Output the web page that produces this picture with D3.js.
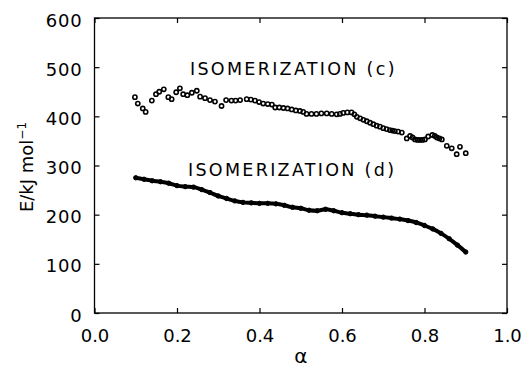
<!DOCTYPE html>
<html>
<head>
<meta charset="utf-8">
<script src="https://cdn.jsdelivr.net/npm/d3@7"></script>
<style>
  body { margin: 0; background: #fff; }
  text { font-family: "DejaVu Sans", sans-serif; fill: #000; }
</style>
</head>
<body>
<div id="chart"></div>
<script>
// isomerization (c): alpha / E (kJ/mol)
const alphaC = [0.098, 0.105, 0.117, 0.124, 0.139, 0.149, 0.157, 0.168, 0.179, 0.187,
  0.198, 0.207, 0.215, 0.225, 0.236, 0.248, 0.256, 0.268, 0.280, 0.292,
  0.308, 0.319, 0.332, 0.342, 0.353, 0.369, 0.379, 0.389, 0.399, 0.409,
  0.420, 0.430, 0.438, 0.448, 0.458, 0.468, 0.478, 0.488, 0.498, 0.506,
  0.514, 0.526, 0.538, 0.550, 0.563, 0.575, 0.587, 0.595, 0.603, 0.613,
  0.623, 0.630, 0.636, 0.644, 0.652, 0.660, 0.668, 0.676, 0.684, 0.692,
  0.700, 0.708, 0.716, 0.722, 0.728, 0.736, 0.745, 0.757, 0.765, 0.771,
  0.777, 0.783, 0.789, 0.795, 0.801, 0.809, 0.819, 0.825, 0.830, 0.836,
  0.842, 0.854, 0.866, 0.878, 0.886, 0.900];
const energyC = [439, 426, 416, 409, 432, 445, 450, 455, 439, 435,
  449, 457, 445, 443, 448, 452, 440, 437, 433, 430,
  421, 433, 432, 432, 433, 435, 434, 432, 429, 426,
  425, 424, 418, 418, 417, 416, 414, 412, 411, 409,
  405, 405, 405, 406, 406, 405, 404, 405, 407, 408,
  408, 404, 399, 396, 393, 390, 387, 384, 381, 379,
  376, 374, 372, 371, 370, 369, 367, 355, 360, 357,
  353, 352, 352, 352, 353, 359, 362, 360, 357, 355,
  353, 340, 335, 323, 338, 325];

// isomerization (d)
const alphaD = [0.10, 0.12, 0.14, 0.16, 0.18, 0.20, 0.22, 0.24, 0.26, 0.28,
  0.30, 0.32, 0.34, 0.36, 0.38, 0.40, 0.42, 0.44, 0.46, 0.48,
  0.50, 0.52, 0.54, 0.56, 0.58, 0.60, 0.62, 0.64, 0.66, 0.68,
  0.70, 0.72, 0.74, 0.76, 0.78, 0.80, 0.82, 0.84, 0.86, 0.88, 0.90];
const energyD = [275, 272, 269, 267, 264, 259, 257, 256, 251, 245,
  238, 233, 228, 225, 224, 223, 223, 222, 219, 215,
  213, 209, 208, 211, 208, 204, 202, 200, 199, 197,
  195, 193, 191, 188, 184, 178, 171, 162, 151, 138, 124];

const xTicks = [0.0, 0.2, 0.4, 0.6, 0.8, 1.0];
const yTicks = [0, 100, 200, 300, 400, 500, 600];

const width = 524;
const height = 369;
const margin = { top: 18, right: 17, bottom: 56, left: 94.5 };

const svg = d3.select('#chart')
  .append('svg')
  .attr('width', width)
  .attr('height', height);

const x = d3.scaleLinear()
  .domain([0, 1])
  .range([margin.left, width - margin.right]);

const y = d3.scaleLinear()
  .domain([0, 600])
  .range([height - margin.bottom, margin.top]);

// inward ticks on all four sides
const tickLen = 5;
svg.append('g')
  .attr('transform', `translate(0,${y(0)})`)
  .call(d3.axisBottom(x).tickValues(xTicks).tickSize(-tickLen).tickFormat(d3.format('.1f')))
  .call(g => g.select('.domain').remove())
  .call(g => g.selectAll('line').attr('stroke', '#000').attr('stroke-width', 1.2))
  .selectAll('text')
  .attr('y', 16)
  .style('font-size', '18px')
  .style('font-family', '"DejaVu Sans", sans-serif');

svg.append('g')
  .attr('transform', `translate(0,${y(600)})`)
  .call(d3.axisTop(x).tickValues(xTicks).tickSize(-tickLen).tickFormat(''))
  .call(g => g.select('.domain').remove())
  .call(g => g.selectAll('line').attr('stroke', '#000').attr('stroke-width', 1.2));

svg.append('g')
  .attr('transform', `translate(${x(0)},0)`)
  .call(d3.axisLeft(y).tickValues(yTicks).tickSize(-tickLen).tickPadding(12))
  .call(g => g.select('.domain').remove())
  .call(g => g.selectAll('line').attr('stroke', '#000').attr('stroke-width', 1.2))
  .selectAll('text')
  .attr('dy', '0.45em')
  .style('font-size', '18px')
  .style('letter-spacing', '0.8px')
  .style('font-family', '"DejaVu Sans", sans-serif');

svg.append('g')
  .attr('transform', `translate(${x(1)},0)`)
  .call(d3.axisRight(y).tickValues(yTicks).tickSize(-tickLen).tickFormat(''))
  .call(g => g.select('.domain').remove())
  .call(g => g.selectAll('line').attr('stroke', '#000').attr('stroke-width', 1.2));

// frame
svg.append('rect')
  .attr('x', x(0))
  .attr('y', y(600))
  .attr('width', x(1) - x(0))
  .attr('height', y(0) - y(600))
  .attr('fill', 'none')
  .attr('stroke', '#000')
  .attr('stroke-width', 1.3);

// series d: dense markers forming a thick line
const dataD = alphaD.map((a, i) => ({ a, e: energyD[i] }));
const line = d3.line().x(d => x(d.a)).y(d => y(d.e)).curve(d3.curveMonotoneX);

svg.append('path')
  .datum(dataD)
  .attr('d', line)
  .attr('fill', 'none')
  .attr('stroke', '#000')
  .attr('stroke-width', 4);

svg.selectAll('.pt-d')
  .data(dataD)
  .enter()
  .append('circle')
  .attr('class', 'pt-d')
  .attr('cx', d => x(d.a))
  .attr('cy', d => y(d.e))
  .attr('r', 2.2)
  .attr('fill', '#000')
  .attr('stroke', '#000')
  .attr('stroke-width', 1);

// series c: open circles
const dataC = alphaC.map((a, i) => ({ a, e: energyC[i] }));
svg.selectAll('.pt-c')
  .data(dataC)
  .enter()
  .append('circle')
  .attr('class', 'pt-c')
  .attr('cx', d => x(d.a))
  .attr('cy', d => y(d.e))
  .attr('r', 2.1)
  .attr('fill', 'none')
  .attr('stroke', '#000')
  .attr('stroke-width', 1.6);

// labels
svg.append('text')
  .attr('x', 190)
  .attr('y', 75)
  .style('font-size', '17.5px')
  .style('letter-spacing', '2.3px')
  .text('ISOMERIZATION (c)');

svg.append('text')
  .attr('x', 188)
  .attr('y', 176)
  .style('font-size', '17.5px')
  .style('letter-spacing', '2.3px')
  .text('ISOMERIZATION (d)');

svg.append('text')
  .attr('x', x(0.5))
  .attr('y', 363)
  .attr('text-anchor', 'middle')
  .style('font-size', '20px')
  .text('α');

const yTitle = svg.append('text')
  .attr('transform', `translate(33,167) rotate(-90)`)
  .attr('text-anchor', 'middle')
  .style('font-size', '18px');
yTitle.append('tspan').text('E/kJ mol');
yTitle.append('tspan')
  .attr('dy', -7)
  .style('font-size', '12px')
  .text('−1');
</script>
</body>
</html>
